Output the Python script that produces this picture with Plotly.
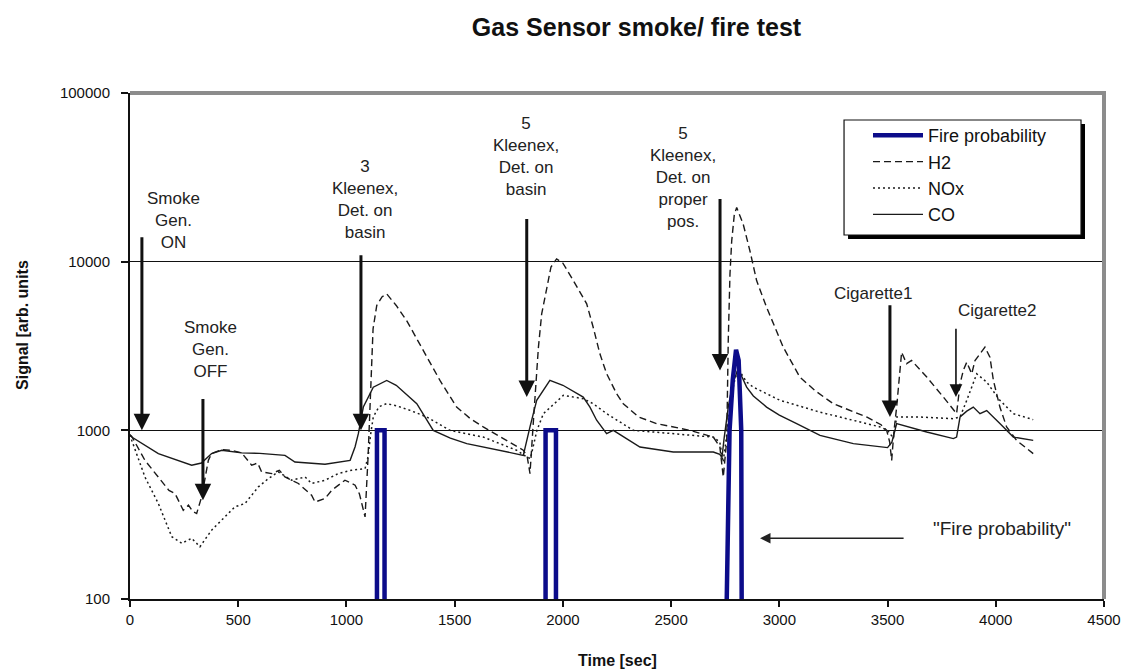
import math
import plotly.graph_objects as go

# ---------------- data ----------------
h2_t = [0, 8, 69, 131, 180, 208, 246, 270, 290, 308, 331, 362, 377, 424, 470, 516, 562, 590, 608, 655,
        690, 716, 778, 839, 855, 901, 932, 993, 1040, 1060, 1086, 1100, 1112, 1123, 1140, 1165, 1186, 1230,
        1278, 1320, 1355, 1432, 1509, 1570, 1632, 1740, 1817, 1835, 1848, 1865, 1880, 1887, 1902, 1925,
        1945, 1971, 2000, 2048, 2110, 2140, 2171, 2202, 2248, 2279, 2350, 2433, 2587, 2695, 2725, 2741,
        2757, 2764, 2772, 2780, 2792, 2803, 2833, 2864, 2895, 2941, 3018, 3095, 3170, 3249, 3320, 3403,
        3470, 3496, 3510, 3519, 3530, 3542, 3565, 3588, 3611, 3681, 3758, 3819, 3835, 3850, 3866, 3889,
        3904, 3950, 3973, 3989, 4019, 4050, 4096, 4173]
h2_v = [940, 920, 664, 529, 440, 422, 336, 360, 330, 321, 403, 664, 728, 769, 760, 735, 621, 640, 567, 554,
        580, 529, 484, 412, 376, 394, 441, 506, 473, 420, 307, 700, 2000, 4000, 5500, 6200, 6442, 5500,
        4477, 3600, 2974, 1977, 1374, 1180, 1048, 873, 762, 700, 554, 1200, 2500, 3113, 4900, 7050,
        9300, 10375, 9800, 7730, 5620, 4085, 2843, 2168, 1649, 1439, 1200, 1096, 1000, 912, 800, 529,
        873, 3410, 8450, 13300, 19000, 20940, 16700, 11610, 7730, 5370, 3113, 2065, 1700, 1439, 1330, 1200,
        1080, 1000, 850, 664, 1000, 1374, 2904, 2483, 2594, 2070, 1574, 1256, 1888, 2265, 2535, 2163,
        2594, 3113, 2716, 1977, 1374, 1048, 872, 728]

nox_t = [0, 8, 69, 131, 193, 239, 285, 323, 377, 439, 485, 531, 593, 639, 685, 747, 809, 839, 901, 962,
         1024, 1086, 1100, 1112, 1124, 1150, 1186, 1230, 1294, 1371, 1478, 1632, 1786, 1830, 1850, 1880,
         1910, 2002, 2094, 2140, 2202, 2325, 2510, 2695, 2725, 2740, 2750, 2770, 2790, 2810, 2849, 2880,
         3003, 3157, 3188, 3342, 3465, 3500, 3515, 3527, 3542, 3650, 3804, 3835, 3866, 3912, 3958, 4019,
         4081, 4173]
nox_v = [940, 873, 529, 368, 234, 214, 229, 204, 256, 307, 352, 368, 462, 517, 567, 506, 529, 484, 506, 554,
         580, 593, 700, 950, 1200, 1380, 1439, 1400, 1313, 1200, 1000, 912, 762, 700, 680, 1000,
         1256, 1611, 1541, 1439, 1256, 1000, 955, 912, 850, 650, 800, 1300, 1900, 2318, 1932, 1803,
         1507, 1313, 1282, 1146, 1048, 1000, 950, 900, 1200, 1200, 1172, 1200, 1507, 2163, 1932, 1507,
         1256, 1157]

co_t = [0, 8, 131, 200, 285, 330, 377, 424, 516, 600, 716, 762, 901, 1017, 1040, 1055, 1078, 1124, 1186,
        1230, 1325, 1401, 1480, 1556, 1709, 1817, 1848, 1879, 1940, 2000, 2094, 2125, 2156, 2202, 2233,
        2356, 2510, 2695, 2725, 2735, 2745, 2765, 2785, 2810, 2849, 2880, 2941, 3000, 3080, 3188, 3342,
        3465, 3500, 3520, 3542, 3681, 3804, 3819, 3835, 3866, 3896, 3927, 3958, 4019, 4081, 4173]
co_v = [940, 912, 728, 680, 621, 640, 728, 762, 735, 730, 711, 649, 629, 664, 800, 955, 1374, 1803, 1977,
        1850, 1439, 1000, 900, 834, 762, 711, 1048, 1507, 1977, 1850, 1574, 1374, 1148, 955, 1000,
        796, 744, 744, 720, 690, 900, 1400, 1900, 2318, 1803, 1600, 1374, 1230, 1096, 933, 834,
        796, 790, 850, 1096, 977, 893, 912, 1200, 1300, 1374, 1256, 1310, 1096, 912, 872]

fire_t = [0, 1141, 1141, 1176, 1176, 1920, 1920, 1968, 1968, 2757, 2757, 2770, 2785, 2800, 2812, 2824, 2826, 2826, 4180]
fire_v = [1, 1, 1000, 1000, 1, 1, 1000, 1000, 1, 1, 100, 1000, 2000, 3000, 2600, 1000, 100, 1, 1]

# event arrows: label, tip time, tip value, tail value, label position
event_labels = ["Smoke<br>Gen.<br>ON", "Smoke<br>Gen.<br>OFF", "3<br>Kleenex,<br>Det. on<br>basin",
                "5<br>Kleenex,<br>Det. on<br>basin", "5<br>Kleenex,<br>Det. on<br>proper<br>pos.",
                "Cigarette1", "Cigarette2"]
event_t = [55, 337, 1067, 1833, 2726, 3511, 3816]
arrow_tip = [1000, 385, 1000, 1574, 2265, 1200, 1574]
arrow_tail = [14260, 1567, 11150, 18280, 24000, 5625, 4085]
label_t = [199, 370, 1086, 1830, 2555, 3433, 4006]
label_v = [17500, 3010, 23300, 41800, 31600, 6440, 5130]

x_ticks = [0, 500, 1000, 1500, 2000, 2500, 3000, 3500, 4000, 4500]
y_ticks = [100, 1000, 10000, 100000]

FONT = "Liberation Sans, Arial, sans-serif"
INK = "#1a1a1a"

fig = go.Figure()
fig.add_trace(go.Scatter(x=h2_t, y=h2_v, name="H2", mode="lines", legendrank=2,
                         line=dict(color=INK, width=1.4, dash="7px,4px")))
fig.add_trace(go.Scatter(x=nox_t, y=nox_v, name="NOx", mode="lines", legendrank=3,
                         line=dict(color=INK, width=1.5, dash="2px,3px")))
fig.add_trace(go.Scatter(x=co_t, y=co_v, name="CO", mode="lines", legendrank=4,
                         line=dict(color=INK, width=1.4)))
fig.add_trace(go.Scatter(x=fire_t, y=fire_v, name="Fire probability", mode="lines", legendrank=1,
                         line=dict(color="#0c0c8a", width=4.5)))

annotations = []
for i, lab in enumerate(event_labels):
    thin = lab == "Cigarette2"
    annotations.append(dict(x=event_t[i], y=math.log10(arrow_tip[i]), ax=event_t[i],
                            ay=math.log10(arrow_tail[i]), axref="x", ayref="y", xref="x", yref="y",
                            text="", showarrow=True, arrowhead=2, arrowsize=1.1 if not thin else 1.6,
                            arrowwidth=3 if not thin else 1.6, arrowcolor="#111"))
    annotations.append(dict(x=label_t[i], y=math.log10(label_v[i]), xref="x", yref="y", text=lab,
                            showarrow=False, font=dict(family=FONT, size=17, color="#222"),
                            align="center"))
# "Fire probability" pointer
annotations.append(dict(x=2911, y=math.log10(229), ax=3581, ay=math.log10(229), axref="x", ayref="y",
                        xref="x", yref="y", text="", showarrow=True, arrowhead=2, arrowsize=1.3,
                        arrowwidth=1.6, arrowcolor="#222"))
annotations.append(dict(x=4027, y=math.log10(262), xref="x", yref="y", text="\"Fire probability\"",
                        showarrow=False, font=dict(family=FONT, size=19, color="#222")))
# axis titles
annotations.append(dict(x=-0.1109, y=0.5415, xref="paper", yref="paper", xanchor="center",
                        yanchor="middle", text="<b>Signal [arb. units</b>", textangle=-90,
                        showarrow=False, font=dict(family=FONT, size=16, color="#111")))
annotations.append(dict(x=0.5, y=-0.1206, xref="paper", yref="paper", xanchor="center",
                        yanchor="middle", text="<b>Time [sec]</b>",
                        showarrow=False, font=dict(family=FONT, size=16, color="#111")))

shapes = [
    # legend shadow and box
    dict(type="rect", xref="paper", yref="paper", x0=0.7372, x1=0.9805, y0=0.7115, y1=0.9387,
         fillcolor="#000", line=dict(width=0), layer="above"),
    dict(type="rect", xref="paper", yref="paper", x0=0.7331, x1=0.9764, y0=0.7194, y1=0.9466,
         fillcolor="white", line=dict(color="#111", width=1.2), layer="above"),
    # grey frame top / right
    dict(type="line", xref="paper", yref="paper", x0=0, x1=1.002, y0=1, y1=1,
         line=dict(color="#8c8c8c", width=4)),
    dict(type="line", xref="paper", yref="paper", x0=1.0, x1=1.0, y0=0, y1=1.004,
         line=dict(color="#8c8c8c", width=4)),
]

fig.update_layout(
    width=1114, height=663,
    margin=dict(l=122, r=18, t=85, b=72),
    paper_bgcolor="white", plot_bgcolor="white",
    font=dict(family=FONT, color="#111"),
    title=dict(text="<b>Gas Sensor smoke/ fire test</b>", x=0.5642, xanchor="center", y=1 - 19 / 663,
               yanchor="middle", font=dict(family=FONT, size=25, color="#111")),
    showlegend=True,
    legend=dict(x=0.7577, xanchor="left", y=0.9526, yanchor="top", bgcolor="rgba(0,0,0,0)",
                borderwidth=0, font=dict(family=FONT, size=18, color="#111"),
                itemwidth=50, tracegroupgap=0),
    annotations=annotations,
    shapes=shapes,
)
fig.update_xaxes(range=[0, 4500], tickvals=x_ticks, ticktext=[str(v) for v in x_ticks],
                 showline=True, linecolor="#111", linewidth=2, ticks="outside", ticklen=6,
                 tickcolor="#111", tickwidth=1.5, showgrid=False, zeroline=False, automargin=False,
                 tickfont=dict(family=FONT, size=15, color="#111"), ticklabelstandoff=0)
fig.update_yaxes(type="log", range=[2, 5], tickvals=y_ticks, ticktext=[str(v) for v in y_ticks],
                 showline=True, linecolor="#111", linewidth=2, ticks="outside", ticklen=7,
                 tickcolor="#111", tickwidth=1.5, showgrid=True, gridcolor="#111", gridwidth=1,
                 zeroline=False, automargin=False, tickfont=dict(family=FONT, size=15, color="#111"),
                 ticklabelstandoff=8)

fig.write_html("out.html")
